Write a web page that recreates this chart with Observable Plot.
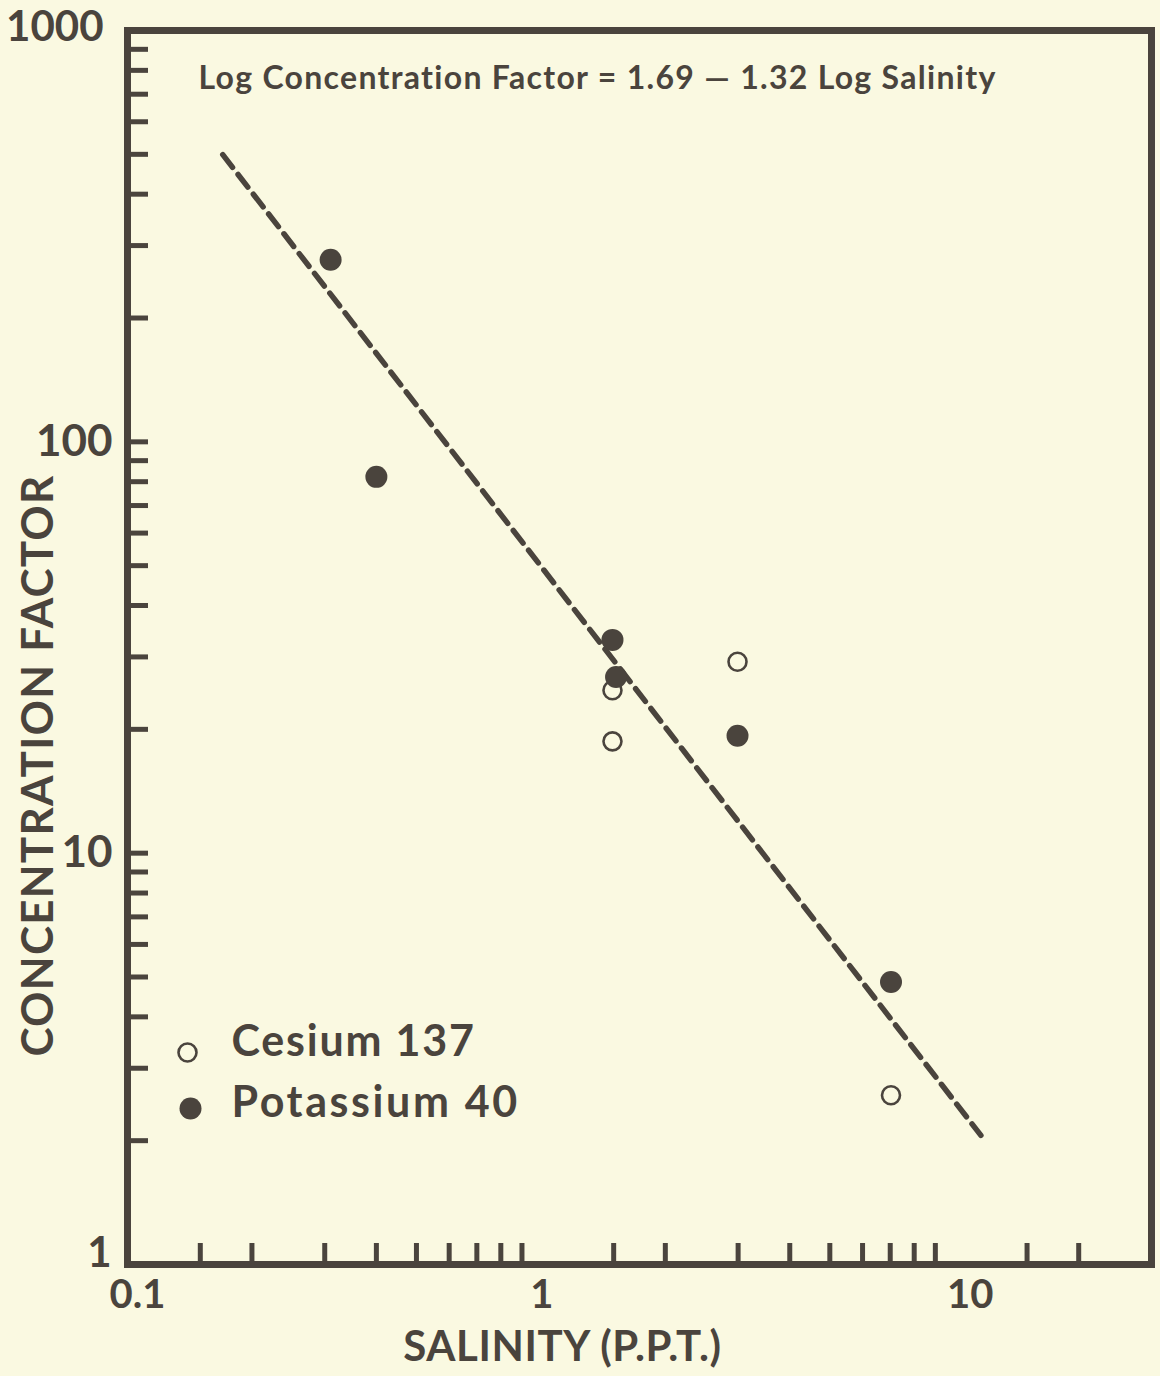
<!DOCTYPE html>
<html>
<head>
<meta charset="utf-8">
<script src="https://cdn.jsdelivr.net/npm/d3@7"></script>
<script src="https://cdn.jsdelivr.net/npm/@observablehq/plot@0.6"></script>
<style>
  html, body { margin: 0; padding: 0; background: #FAF9E1; }
  #chart svg { display: block; }
</style>
</head>
<body>
<div id="chart"></div>
<script>
// ---- data ----
const cesiumSalinity = [1.49, 1.49, 2.99, 7.03];
const cesiumFactor = [24.9, 18.7, 29.2, 2.58];
const potassiumSalinity = [0.31, 0.40, 1.49, 1.52, 2.99, 7.03];
const potassiumFactor = [277, 82.2, 33.0, 26.8, 19.3, 4.86];
const fitSalinity = [0.170, 11.6];
const fitFactor = [499, 2.06];
const xTickValues = [0.15, 0.2, 0.3, 0.4, 0.5, 0.6, 0.7, 0.8, 0.9,
                     1.5, 2, 3, 4, 5, 6, 7, 8, 9, 15, 20];
const yTickValues = [2, 3, 4, 5, 6, 7, 8, 9, 10,
                     20, 30, 40, 50, 60, 70, 80, 90, 100,
                     200, 300, 400, 500, 600, 700, 800, 900];
const xTickLabels = ["0.1", "1", "10"];
const xTickLabelValues = [0.1, 1, 10];
const yTickLabels = ["1", "10", "100", "1000"];
const yTickLabelValues = [1, 10, 100, 1000];
const equationText = "Log Concentration Factor = 1.69 \u2014 1.32 Log Salinity";
const legendLabels = ["Cesium 137", "Potassium 40"];
const xTitle = "SALINITY (P.P.T.)";
const yTitle = "CONCENTRATION FACTOR";

// ---- tables built from arrays ----
const cesium = cesiumSalinity.map((s, i) => ({s, f: cesiumFactor[i]}));
const potassium = potassiumSalinity.map((s, i) => ({s, f: potassiumFactor[i]}));
const fit = fitSalinity.map((s, i) => ({s, f: fitFactor[i]}));

const ink = "#4a443d";
const bg = "#FAF9E1";
const W = 1160, H = 1376;
const mL = 127, mR = 9, mT = 30, mB = 112;
const innerW = W - mL - mR, innerH = H - mT - mB;
const font = "Lato, 'Open Sans', sans-serif";
const txt = {fill: ink, fontWeight: 700, lineAnchor: "middle"};

const plot = Plot.plot({
  width: W,
  height: H,
  marginLeft: mL,
  marginRight: mR,
  marginTop: mT,
  marginBottom: mB,
  style: {background: bg, fontFamily: font, color: ink},
  x: {type: "log", domain: [0.1, 30], axis: null},
  y: {type: "log", domain: [1, 1000], axis: null},
  marks: [
    // inward tick marks
    Plot.ruleX(xTickValues, {x: d => d, insetTop: innerH - 21, stroke: ink, strokeWidth: 5}),
    Plot.ruleY(yTickValues, {y: d => d, insetRight: innerW - 21, stroke: ink, strokeWidth: 5}),
    // regression line
    Plot.line(fit, {x: "s", y: "f", stroke: ink, strokeWidth: 5.5, strokeDasharray: "16,9"}),
    // data
    Plot.dot(cesium, {x: "s", y: "f", r: 9, stroke: ink, strokeWidth: 2.6, fill: bg}),
    Plot.dot(potassium, {x: "s", y: "f", r: 11, fill: ink, stroke: null}),
    // frame
    Plot.frame({stroke: ink, strokeWidth: 7}),
    // x tick labels
    Plot.text([xTickLabelValues[0]], {...txt, x: d => d, text: () => xTickLabels[0], frameAnchor: "bottom", textAnchor: "middle", dy: 31, dx: 10, fontSize: 40}),
    Plot.text([xTickLabelValues[1]], {...txt, x: d => d, text: () => xTickLabels[1], frameAnchor: "bottom", textAnchor: "middle", dy: 31, dx: 1, fontSize: 40}),
    Plot.text([xTickLabelValues[2]], {...txt, x: d => d, text: () => xTickLabels[2], frameAnchor: "bottom", textAnchor: "middle", dy: 31, dx: 16, fontSize: 40}),
    // y tick labels
    Plot.text([yTickLabelValues[0]], {...txt, y: d => d, text: () => yTickLabels[0], frameAnchor: "left", dx: -16, dy: -11, textAnchor: "end", fontSize: 42}),
    Plot.text(yTickLabelValues.slice(1, 3), {...txt, y: d => d, text: (d, i) => yTickLabels[i + 1], frameAnchor: "left", dx: -15, dy: 0, textAnchor: "end", fontSize: 44}),
    Plot.text([yTickLabelValues[3]], {...txt, y: d => d, text: () => yTickLabels[3], frameAnchor: "left", dx: -24, dy: -3, textAnchor: "end", fontSize: 42}),
    // equation
    Plot.text([equationText], {...txt, text: d => d, frameAnchor: "top-left", dx: 71, dy: 48, textAnchor: "start", fontSize: 32}),
    // legend
    Plot.dot([0], {frameAnchor: "bottom-left", dx: 60, dy: -212, r: 9, stroke: ink, strokeWidth: 2.6, fill: bg}),
    Plot.dot([0], {frameAnchor: "bottom-left", dx: 63, dy: -156, r: 11, fill: ink, stroke: null}),
    Plot.text([legendLabels[0]], {...txt, text: d => d, frameAnchor: "bottom-left", dx: 104, dy: -222, textAnchor: "start", fontSize: 43}),
    Plot.text([legendLabels[1]], {...txt, text: d => d, frameAnchor: "bottom-left", dx: 104, dy: -161, textAnchor: "start", fontSize: 43}),
    // axis titles
    Plot.text([xTitle], {...txt, text: d => d, frameAnchor: "bottom", textAnchor: "middle", dx: -77, dy: 83, fontSize: 42}),
    Plot.text([yTitle], {...txt, text: d => d, frameAnchor: "left", textAnchor: "middle", rotate: -90, dx: -89, dy: 118, fontSize: 44})
  ]
});

// letter spacing for the wide-set lettering of the original
const spacing = new Map([
  [equationText, "1.3px"],
  [legendLabels[0], "1.8px"],
  [legendLabels[1], "2.6px"],
  [xTitle, "0.6px"],
  [yTitle, "1.2px"]
]);
d3.select(plot).selectAll("text").each(function () {
  const s = spacing.get(this.textContent);
  if (s) this.style.letterSpacing = s;
});

document.getElementById("chart").appendChild(plot);
</script>
</body>
</html>
